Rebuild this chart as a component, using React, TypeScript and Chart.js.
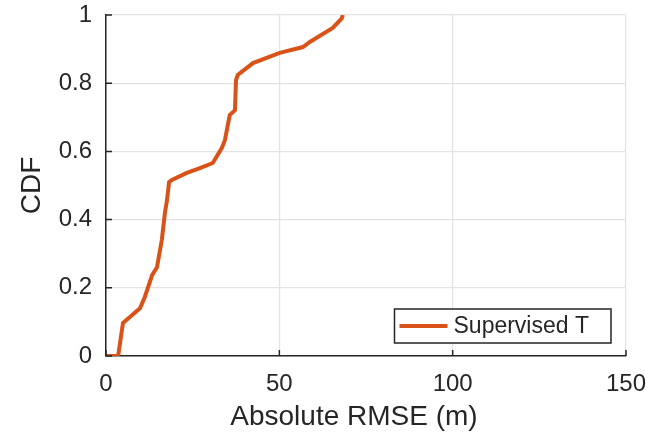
import React, { useEffect, useRef } from "react";
import { Chart, registerables } from "chart.js";

Chart.register(...registerables);

const rmse = [0, 3.5, 4.9, 9.8, 11.2, 13.3, 14.7, 16.1, 17.0, 17.6, 18.2, 19.0, 23.3, 27.1, 30.8, 33.4, 34.3, 35.7, 37.2, 37.5, 38.0, 42.4, 50.1, 56.8, 58.8, 65.4, 68.0, 68.3];
const cdf = [0, 0, 0.097, 0.14, 0.173, 0.237, 0.26, 0.34, 0.42, 0.457, 0.51, 0.516, 0.537, 0.551, 0.566, 0.61, 0.633, 0.707, 0.721, 0.809, 0.824, 0.859, 0.889, 0.906, 0.921, 0.962, 0.99, 1.0];
const seriesName = "Supervised T";
const xTicks = [0, 50, 100, 150];
const yTicks = [0, 0.2, 0.4, 0.6, 0.8, 1];
const xLabel = "Absolute RMSE (m)";
const yLabel = "CDF";

const ORANGE = "#D95319";
const AXIS = "#262626";
const GRID = "#e3e3e3";
const FONT = "'Liberation Sans', Arial, Helvetica, sans-serif";

const inwardTicks = {
  id: "inwardTicks",
  afterDraw(chart: any) {
    const { ctx, chartArea } = chart;
    const xs = chart.scales.x;
    const ys = chart.scales.y;
    ctx.save();
    ctx.strokeStyle = AXIS;
    ctx.lineWidth = 1.5;
    ctx.beginPath();
    for (const v of xTicks) {
      const px = xs.getPixelForValue(v);
      ctx.moveTo(px, chartArea.bottom);
      ctx.lineTo(px, chartArea.bottom - 6);
    }
    for (const v of yTicks) {
      const py = ys.getPixelForValue(v);
      ctx.moveTo(chartArea.left, py);
      ctx.lineTo(chartArea.left + 6, py);
    }
    ctx.stroke();
    ctx.restore();
  },
};

const xTitle = {
  id: "xTitle",
  afterDraw(chart: any) {
    const { ctx, chartArea } = chart;
    ctx.save();
    ctx.font = `28px ${FONT}`;
    ctx.fillStyle = AXIS;
    ctx.textAlign = "center";
    ctx.textBaseline = "middle";
    ctx.fillText(xLabel, (chartArea.left + chartArea.right) / 2 - 12, 417);
    ctx.restore();
  },
};

const legendBox = {
  id: "legendBox",
  afterDraw(chart: any) {
    const { ctx, chartArea } = chart;
    ctx.save();
    ctx.font = `23px ${FONT}`;
    const tw = ctx.measureText(seriesName).width;
    const right = chartArea.right - 15;
    const bottom = chartArea.bottom - 13;
    const h = 34;
    const lineLen = 48;
    const w = 5 + lineLen + 6 + tw + 22;
    const left = right - w;
    const top = bottom - h;
    ctx.fillStyle = "#ffffff";
    ctx.fillRect(left, top, w, h);
    ctx.strokeStyle = AXIS;
    ctx.lineWidth = 1.5;
    ctx.strokeRect(left, top, w, h);
    const cy = top + h / 2;
    ctx.strokeStyle = ORANGE;
    ctx.lineWidth = 4;
    ctx.beginPath();
    ctx.moveTo(left + 5, cy);
    ctx.lineTo(left + 5 + lineLen, cy);
    ctx.stroke();
    ctx.fillStyle = AXIS;
    ctx.textBaseline = "middle";
    ctx.textAlign = "left";
    ctx.fillText(seriesName, left + 5 + lineLen + 6, cy + 1);
    ctx.restore();
  },
};

export default function App() {
  const ref = useRef<HTMLCanvasElement>(null);
  useEffect(() => {
    document.body.style.margin = "0";
    const canvas = ref.current!;
    const chart = new Chart(canvas, {
      type: "line",
      data: {
        datasets: [
          {
            label: seriesName,
            data: rmse.map((x, i) => ({ x, y: cdf[i] })),
            borderColor: ORANGE,
            backgroundColor: ORANGE,
            borderWidth: 4,
            pointRadius: 0,
            tension: 0,
            fill: false,
          },
        ],
      },
      options: {
        responsive: false,
        animation: false,
        layout: { padding: { top: 15, right: 20, left: 0, bottom: 0 } },
        plugins: { legend: { display: false }, tooltip: { enabled: false } },
        scales: {
          x: {
            type: "linear",
            min: 0,
            max: 150,
            afterBuildTicks: (s: any) => {
              s.ticks = xTicks.map((v) => ({ value: v }));
            },
            afterFit: (s: any) => {
              s.height = 79;
              s.paddingLeft = 0;
              s.paddingRight = 0;
              s.paddingTop = 0;
              s.paddingBottom = 0;
            },
            ticks: {
              color: AXIS,
              font: { family: FONT, size: 24 },
              padding: 14,
              maxRotation: 0,
            },
            grid: { color: GRID, lineWidth: 1.2, drawTicks: false },
            border: { display: true, color: AXIS, width: 1.5 },
            title: { display: false, text: xLabel },
          },
          y: {
            type: "linear",
            min: 0,
            max: 1,
            afterBuildTicks: (s: any) => {
              s.ticks = yTicks.map((v) => ({ value: v }));
            },
            afterFit: (s: any) => {
              s.width = 106;
              s.paddingLeft = 0;
              s.paddingRight = 0;
              s.paddingTop = 0;
              s.paddingBottom = 0;
            },
            ticks: {
              color: AXIS,
              font: { family: FONT, size: 24 },
              padding: 14,
              callback: (v: any) => String(Number(Number(v).toFixed(1))),
            },
            grid: { color: GRID, lineWidth: 1.2, drawTicks: false },
            border: { display: true, color: AXIS, width: 1.5 },
            title: {
              display: true,
              text: yLabel,
              color: AXIS,
              font: { family: FONT, size: 28 },
              padding: { top: 15, bottom: 0 },
            },
          },
        },
      },
      plugins: [inwardTicks, legendBox, xTitle],
    });
    return () => chart.destroy();
  }, []);
  return <canvas ref={ref} width={646} height={435} />;
}
